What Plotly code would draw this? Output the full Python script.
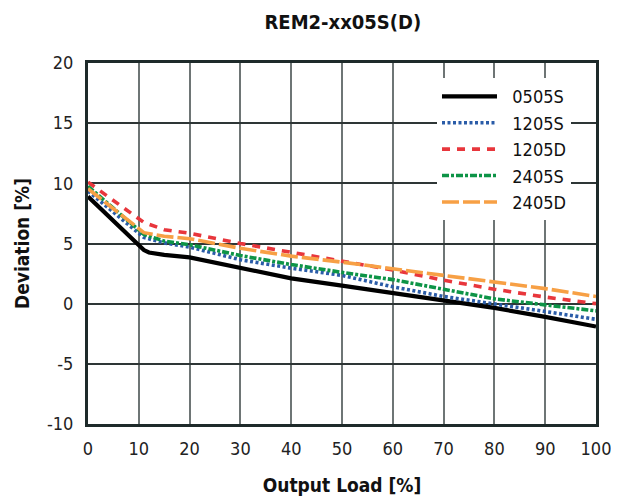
import plotly.graph_objects as go

# ---- data ----
load_0505S = [0, 10, 11, 12, 15, 20, 30, 40, 50, 60, 70, 80, 90, 100]
dev_0505S = [8.9, 4.85, 4.45, 4.25, 4.05, 3.85, 3.0, 2.1, 1.5, 0.9, 0.3, -0.35, -1.1, -1.9]

load_other = [0, 11, 15, 20, 30, 40, 50, 60, 70, 80, 90, 100]
dev_1205S = [9.35, 5.5, 5.05, 4.7, 3.65, 2.95, 2.35, 1.4, 0.6, 0.0, -0.65, -1.3]
dev_1205D = [10.1, 6.75, 6.15, 5.85, 5.0, 4.25, 3.5, 2.8, 1.95, 1.2, 0.55, 0.0]
dev_2405S = [9.75, 5.75, 5.2, 4.9, 4.0, 3.25, 2.6, 2.0, 1.2, 0.4, -0.1, -0.6]
dev_2405D = [9.55, 5.9, 5.6, 5.4, 4.6, 3.95, 3.45, 2.9, 2.35, 1.8, 1.25, 0.6]

series_names = ["0505S", "1205S", "1205D", "2405S", "2405D"]
x_ticks = [0, 10, 20, 30, 40, 50, 60, 70, 80, 90, 100]
y_ticks = [-10, -5, 0, 5, 10, 15, 20]
y_tick_text = ["-10", "-5", "0", "5", "10", "15", "20"]

FONT = "Liberation Sans Narrow, DejaVu Sans Condensed, Arial Narrow, sans-serif"

styles = [
    dict(color="#000000", width=4.2, dash="solid"),
    dict(color="#2a5ca8", width=3.6, dash="3px,2.5px"),
    dict(color="#e8363c", width=3.6, dash="8px,7px"),
    dict(color="#0d9447", width=3.6, dash="7px,2px,3px,2px"),
    dict(color="#f7a045", width=3.6, dash="17px,4px"),
]

xs = [load_0505S, load_other, load_other, load_other, load_other]
ys = [dev_0505S, dev_1205S, dev_1205D, dev_2405S, dev_2405D]

fig = go.Figure()
for name, x, y, st in zip(series_names, xs, ys, styles):
    fig.add_trace(go.Scatter(x=x, y=y, mode="lines", name="\u00a0\u00a0" + name, line=st))

# page body has an 8px margin, so the figure is sized to fit inside the 619x500 window
fig.update_layout(
    width=611, height=492,
    margin=dict(l=80, r=23, t=55, b=76),
    paper_bgcolor="white", plot_bgcolor="white",
    font=dict(family=FONT, size=18, color="#222"),
    title=dict(text="<b>REM2-xx05S(D)</b>", x=0.548, xanchor="center", y=0.9715, yanchor="middle",
               font=dict(family=FONT, size=20, color="#111")),
    showlegend=True,
    legend=dict(x=0.687, y=0.958, xanchor="left", yanchor="top", bgcolor="white",
                borderwidth=0, font=dict(family=FONT, size=18, color="#111"),
                itemwidth=55, tracegroupgap=0),
    xaxis=dict(range=[0, 100], tickvals=x_ticks, showgrid=True, gridcolor="#6e7575", gridwidth=1.5,
               showline=True, linecolor="#1e2a2a", linewidth=3, mirror=True, zeroline=False,
               ticks="", ticklabelstandoff=6, automargin=False,
               title=dict(text="<b>Output Load [%]</b>", font=dict(family=FONT, size=19, color="#111"), standoff=22)),
    yaxis=dict(range=[-10, 20], tickvals=y_ticks, ticktext=y_tick_text, showgrid=True, gridcolor="#2e3636", gridwidth=1.5,
               showline=True, linecolor="#1e2a2a", linewidth=3, mirror=True, zeroline=False,
               ticks="", ticklabelstandoff=8, automargin=False,
               title=dict(text="<b>Deviation [%]</b>", font=dict(family=FONT, size=19, color="#111"), standoff=13)),
)

fig.write_html("out.html")
